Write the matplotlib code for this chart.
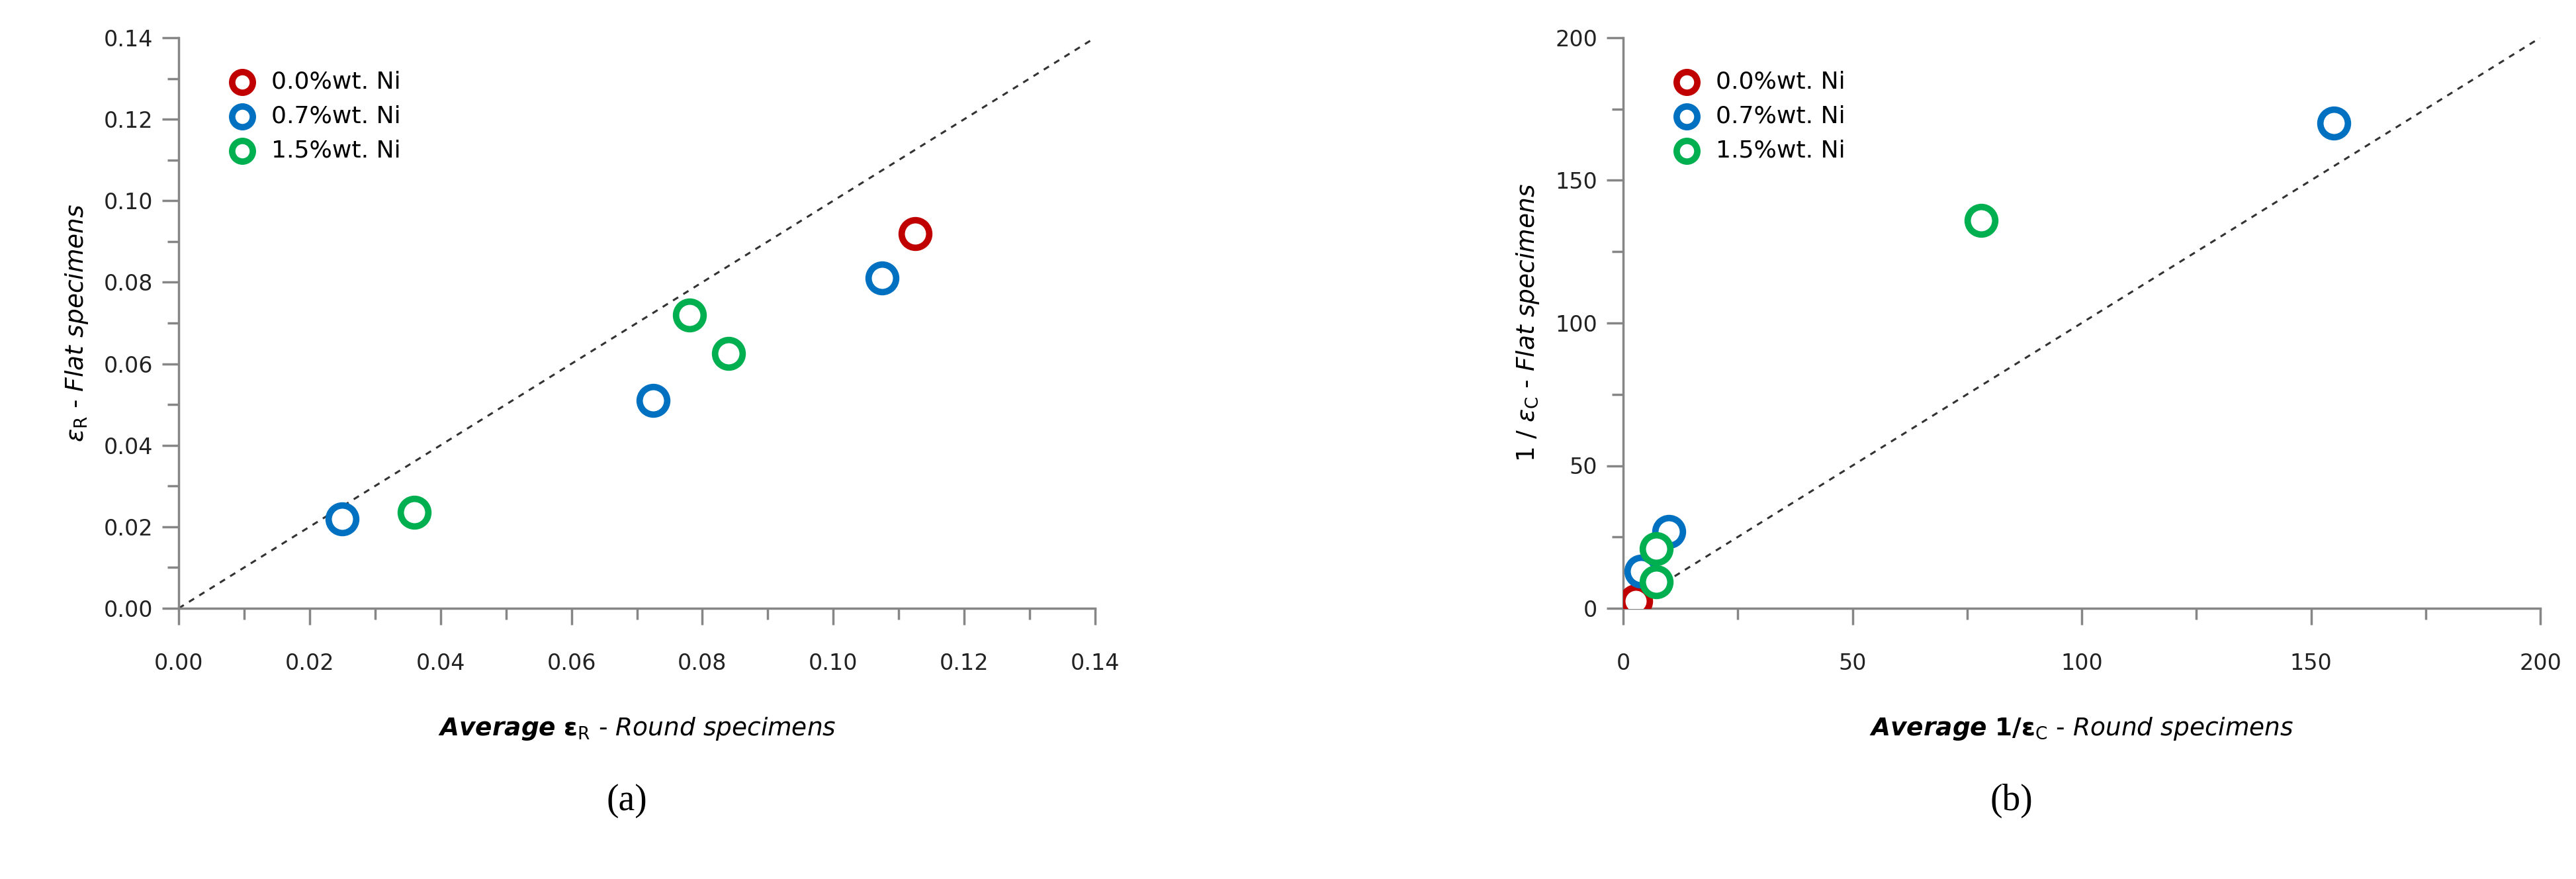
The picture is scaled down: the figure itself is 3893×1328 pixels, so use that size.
import matplotlib
matplotlib.use("Agg")
import matplotlib.pyplot as plt
from matplotlib.ticker import MultipleLocator

plt.rcParams['font.family'] = ['DejaVu Sans']
labels = ["0.0%wt. Ni", "0.7%wt. Ni", "1.5%wt. Ni"]
colors = ["#C00000", "#0070C0", "#00B050"]

a_x = [[0.1125], [0.025, 0.0725, 0.1075], [0.036, 0.078, 0.084]]
a_y = [[0.092], [0.022, 0.051, 0.081], [0.0235, 0.072, 0.0625]]
b_x = [[2.7], [3.9, 10.0, 155.0], [7.2, 7.2, 78.0]]
b_y = [[2.5], [13.0, 26.9, 170.0], [9.3, 20.8, 136.0]]

fig = plt.figure(figsize=(38.93, 13.28), dpi=100)
ax1 = fig.add_axes([270/3893, 1-919/1328, (1655-270)/3893, (919-57)/1328])
ax2 = fig.add_axes([2453/3893, 1-919/1328, (3839-2453)/3893, (919-57)/1328])

def style(ax, lim, major, minor, fmt):
    ax.set_xlim(0, lim); ax.set_ylim(0, lim)
    ax.xaxis.set_major_locator(MultipleLocator(major))
    ax.yaxis.set_major_locator(MultipleLocator(major))
    ax.xaxis.set_minor_locator(MultipleLocator(minor))
    ax.yaxis.set_minor_locator(MultipleLocator(minor))
    ax.xaxis.set_major_formatter(fmt); ax.yaxis.set_major_formatter(fmt)
    for s in ['top', 'right']:
        ax.spines[s].set_visible(False)
    for s in ['left', 'bottom']:
        ax.spines[s].set_color('#868686'); ax.spines[s].set_linewidth(2.5)
    ax.tick_params(which='both', direction='out', color='#868686', width=2.5,
                   labelsize=24, labelcolor='#222222')
    ax.tick_params(which='major', length=18, pad=30)
    ax.tick_params(which='minor', length=12)
    ax.tick_params(axis='y', which='major', pad=10)
    ax.plot([0, lim], [0, lim], linestyle=(0, (3, 3)), color='#333333', lw=2.2, zorder=1)

style(ax1, 0.14, 0.02, 0.01, lambda v, p: f"{v:.2f}")
style(ax2, 200, 50, 25, lambda v, p: f"{v:.0f}")

for ax, xs, ys in [(ax1, a_x, a_y), (ax2, b_x, b_y)]:
    for x, y, c, l in zip(xs, ys, colors, labels):
        ax.scatter(x, y, s=900, facecolors='white', edgecolors=c, linewidths=7,
                   label=l, zorder=3)
    ax.legend(loc='upper left', bbox_to_anchor=(0.02, 0.98), frameon=False,
              fontsize=26, handletextpad=0.2, markerscale=0.75, labelspacing=0.5)

ax1.set_xlabel(r"$\boldsymbol{Average\ \varepsilon}_{\mathrm{R}}$ - $\mathit{Round\ specimens}$",
               fontsize=27, labelpad=45)
ax1.set_ylabel(r"$\mathit{\varepsilon}_{\mathrm{R}}$ - $\mathit{Flat\ specimens}$", fontsize=27, labelpad=15)
ax2.set_xlabel(r"$\boldsymbol{Average\ 1/\varepsilon}_{\mathrm{C}}$ - $\mathit{Round\ specimens}$",
               fontsize=27, labelpad=45)
ax2.set_ylabel(r"1 / $\mathit{\varepsilon}_{\mathrm{C}}$ - $\mathit{Flat\ specimens}$", fontsize=27, labelpad=15)

fig.text(947/3893, 1-1210/1328, "(a)", fontsize=40, family='Liberation Serif', ha='center', va='center')
fig.text(3040/3893, 1-1210/1328, "(b)", fontsize=40, family='Liberation Serif', ha='center', va='center')
fig.savefig("out.png", dpi=100)
